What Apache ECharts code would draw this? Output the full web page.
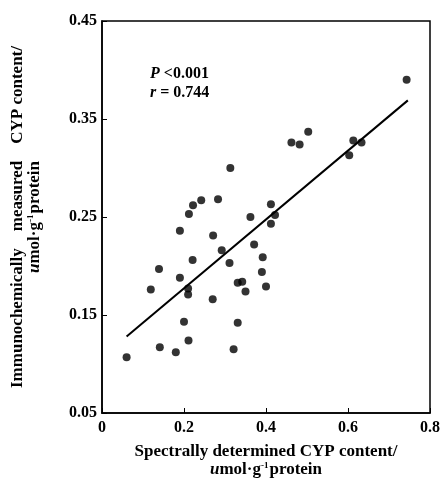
<!DOCTYPE html>
<html>
<head>
<meta charset="utf-8">
<script src="https://cdn.jsdelivr.net/npm/echarts@6/dist/echarts.min.js"></script>
<style>html,body{margin:0;padding:0;background:#fff}#c{width:443px;height:488px}</style>
</head>
<body>
<div id="c"></div>
<script>
// Spectrally determined CYP content (x) vs immunochemically measured (y)
var xValues = [0.743,0.462,0.482,0.503,0.603,0.613,0.633,0.313,0.283,0.242,0.222,0.212,0.412,0.362,0.422,
  0.412,0.190,0.271,0.371,0.292,0.221,0.392,0.311,0.139,0.390,0.190,0.331,0.342,0.210,0.119,0.400,0.350,
  0.210,0.270,0.200,0.331,0.141,0.211,0.180,0.321,0.060];
var yValues = [0.390,0.326,0.324,0.337,0.313,0.328,0.326,0.300,0.268,0.267,0.262,0.253,0.263,0.250,0.252,
  0.243,0.236,0.231,0.222,0.216,0.206,0.209,0.203,0.197,0.194,0.188,0.183,0.184,0.177,0.176,0.179,0.174,
  0.171,0.166,0.143,0.142,0.117,0.124,0.112,0.115,0.107];
var fitX = [0.060, 0.746];
var fitY = [0.128, 0.369];
var xTicks = [0, 0.2, 0.4, 0.6, 0.8];
var yTicks = [0.05, 0.15, 0.25, 0.35, 0.45];

var FONT = '"Liberation Serif","Times New Roman",serif';
var pts = xValues.map(function(x,i){return [x,yValues[i]];});
var line = fitX.map(function(x,i){return [x,fitY[i]];});

var richUnits = {
  u:{fontStyle:'italic',fontFamily:FONT,fontWeight:'bold',fontSize:17},
  sup:{fontSize:9,fontFamily:FONT,fontWeight:'bold',verticalAlign:'top',padding:[0,1,7,0]}
};

var chart = echarts.init(document.getElementById('c'));
chart.setOption({
  animation:false,
  backgroundColor:'#fff',
  grid:{left:102,right:9,top:21,bottom:75,show:true,borderColor:'#000',borderWidth:1.5,backgroundColor:'transparent'},
  xAxis:{type:'value',min:xTicks[0],max:xTicks[xTicks.length-1],interval:0.2,
    axisLine:{lineStyle:{color:'#000',width:1.5}},
    axisTick:{inside:true,length:5,lineStyle:{color:'#000'}},
    splitLine:{show:false},
    axisLabel:{color:'#000',fontFamily:FONT,fontWeight:'bold',fontSize:16,margin:7,
      formatter:function(v){return v===0?'0':v.toFixed(1);}},
    name:'Spectrally determined CYP content/\n{u|u}mol·g{sup|-1}protein',
    nameLocation:'middle',nameGap:30,
    nameTextStyle:{color:'#000',fontFamily:FONT,fontWeight:'bold',fontSize:17,lineHeight:18,rich:richUnits}
  },
  yAxis:{type:'value',min:yTicks[0],max:yTicks[yTicks.length-1],interval:0.1,
    axisLine:{show:true,lineStyle:{color:'#000',width:1.5}},
    axisTick:{show:true,inside:true,length:5,lineStyle:{color:'#000'}},
    splitLine:{show:false},
    axisLabel:{color:'#000',fontFamily:FONT,fontWeight:'bold',fontSize:16,margin:5,
      formatter:function(v){return v.toFixed(2);}},
    name:'Immunochemically    measured    CYP content/\n{u|u}mol·g{sup|-1}protein',
    nameLocation:'middle',nameGap:59,
    nameTextStyle:{color:'#000',fontFamily:FONT,fontWeight:'bold',fontSize:17,lineHeight:17,rich:richUnits}
  },
  graphic:[{type:'text',left:150,top:64,style:{
    text:'{i|P} <0.001\n{i|r} = 0.744',
    font:'bold 16px '+FONT,fill:'#000',lineHeight:19,
    rich:{i:{fontStyle:'italic',fontWeight:'bold',fontFamily:FONT,fontSize:16}}}}],
  series:[
    {type:'scatter',data:pts,symbol:'circle',symbolSize:8,itemStyle:{color:'#000'}},
    {type:'line',data:line,symbol:'none',lineStyle:{color:'#000',width:2}}
  ]
});
</script>
</body>
</html>
